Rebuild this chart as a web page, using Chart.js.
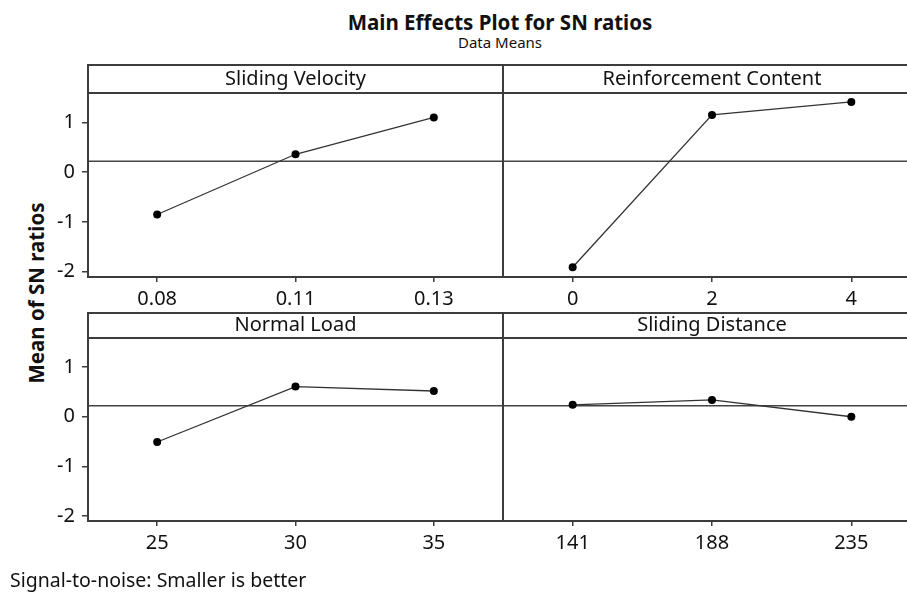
<!DOCTYPE html>
<html>
<head>
<meta charset="utf-8">
<script src="https://cdn.jsdelivr.net/npm/chart.js@4.4.1/dist/chart.umd.min.js"></script>
<style>
  html, body { margin: 0; padding: 0; background: #fff; width: 907px; height: 595px; overflow: hidden; }
  #page { position: relative; width: 907px; height: 595px; overflow: hidden; font-family: "Noto Sans", sans-serif; color: #111; }
  canvas { position: absolute; }
  .txt { position: absolute; white-space: nowrap; }
  #title { left: 0; width: 1000px; top: 11px; line-height: 22px; text-align: center; font-weight: bold; font-size: 20.5px; }
  #subtitle { left: 0; width: 1000px; top: 32px; line-height: 20px; text-align: center; font-size: 15px; }
  #ylabel { left: -64px; top: 281px; width: 200px; height: 24px; line-height: 24px; text-align: center;
            font-weight: bold; font-size: 20.5px; transform: rotate(-90deg); }
  #footnote { left: 10px; top: 568px; line-height: 24px; font-size: 19.5px; }
</style>
</head>
<body>
<div id="page">
  <div class="txt" id="title">Main Effects Plot for SN ratios</div>
  <div class="txt" id="subtitle">Data Means</div>
  <div class="txt" id="ylabel">Mean of SN ratios</div>
  <canvas id="c_velocity" width="504" height="255" style="left:0px;top:60px"></canvas>
  <canvas id="c_content" width="418" height="255" style="left:503px;top:60px"></canvas>
  <canvas id="c_load" width="504" height="254" style="left:0px;top:305px"></canvas>
  <canvas id="c_distance" width="418" height="254" style="left:503px;top:305px"></canvas>
  <div class="txt" id="footnote">Signal-to-noise: Smaller is better</div>
</div>
<script>
//
// data
//
var velocityLevels = ['0.08', '0.11', '0.13'];
var velocitySN = [-0.85, 0.36, 1.10];

var contentLevels = ['0', '2', '4'];
var contentSN = [-1.91, 1.15, 1.41];

var loadLevels = ['25', '30', '35'];
var loadSN = [-0.51, 0.61, 0.52];

var distanceLevels = ['141', '188', '235'];
var distanceSN = [0.24, 0.34, 0.0];

var yTicks = [-2, -1, 0, 1];
var meanSN = 0.22;

//
// styles
//
var y_min = -2.105;
var y_max = 1.59;
var box_color = '#3c3c3c';
var text_color = '#111';
var tick_font = {family: 'Noto Sans', size: 20};

//
// plugin: reference line, box and strip header
//
var panelPlugin = {
  id : 'panel',
  beforeDatasetsDraw : function(chart, args, opts) {
    var ctx = chart.ctx;
    var a = chart.chartArea;
    var y = chart.scales.y.getPixelForValue(opts.mean);
    ctx.save();
    // mean line
    ctx.strokeStyle = '#444';
    ctx.lineWidth = 1.5;
    ctx.beginPath();
    ctx.moveTo(a.left, y);
    ctx.lineTo(a.right, y);
    ctx.stroke();
    // box with strip
    ctx.strokeStyle = box_color;
    ctx.lineWidth = 2;
    ctx.strokeRect(a.left, a.top - opts.stripH, a.right - a.left,
                   a.bottom - a.top + opts.stripH);
    ctx.beginPath();
    ctx.moveTo(a.left, a.top);
    ctx.lineTo(a.right, a.top);
    ctx.stroke();
    // strip text
    ctx.fillStyle = text_color;
    ctx.font = '20px "Noto Sans"';
    ctx.textAlign = 'center';
    ctx.textBaseline = 'middle';
    ctx.fillText(opts.title, (a.left + a.right) / 2, a.top - opts.stripH / 2);
    ctx.restore();
  }
};

function makePanel(canvasId, labels, values, title, stripH, showY) {
  var ctx = document.getElementById(canvasId).getContext('2d');
  return new Chart(ctx, {
    type : 'line',
    data : {
      labels : labels,
      datasets : [ {
        data : values,
        borderColor : '#333',
        borderWidth : 1.3,
        pointRadius : 4,
        pointBackgroundColor : '#000',
        pointBorderWidth : 0,
        tension : 0,
        clip : false
      } ]
    },
    options : {
      responsive : false,
      animation : false,
      layout : {
        autoPadding : false,
        padding : {top : 33, left : 0, right : showY ? 1 : 0, bottom : 0}
      },
      plugins : {
        legend : {display : false},
        tooltip : {enabled : false},
        panel : {title : title, stripH : stripH, mean : meanSN}
      },
      scales : {
        x : {
          type : 'category',
          offset : true,
          border : {display : false},
          grid : {drawOnChartArea : false, offset : false, tickLength : 5,
                  color : box_color, lineWidth : 1.5},
          ticks : {color : text_color, font : tick_font, padding : 5, maxRotation : 0},
          afterFit : function(s) { s.height = 38; }
        },
        y : {
          display : showY,
          min : y_min,
          max : y_max,
          border : {display : false},
          grid : {drawOnChartArea : false, tickLength : 6, color : box_color, lineWidth : 1.5},
          ticks : {color : text_color, font : tick_font, padding : 7},
          afterBuildTicks : function(s) {
            s.ticks = yTicks.map(function(v) { return {value : v}; });
          },
          afterFit : function(s) { s.width = showY ? 88 : 0; }
        }
      }
    },
    plugins : [ panelPlugin ]
  });
}

makePanel('c_velocity', velocityLevels, velocitySN, 'Sliding Velocity', 28, true);
makePanel('c_content', contentLevels, contentSN, 'Reinforcement Content', 28, false);
makePanel('c_load', loadLevels, loadSN, 'Normal Load', 25, true);
makePanel('c_distance', distanceLevels, distanceSN, 'Sliding Distance', 25, false);
</script>
</body>
</html>
